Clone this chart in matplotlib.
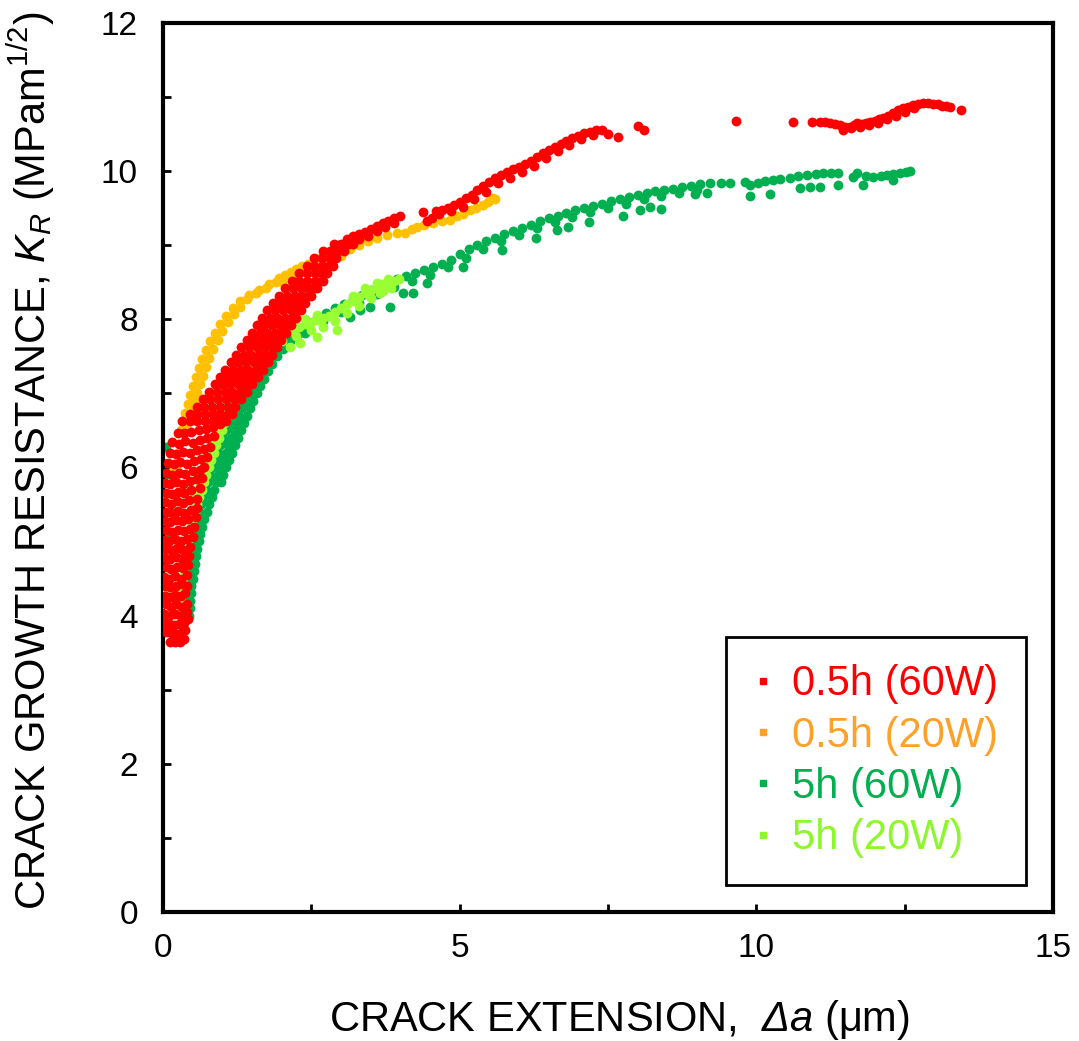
import numpy as np
import matplotlib.pyplot as plt
from matplotlib.lines import Line2D
from matplotlib.ticker import MultipleLocator

plt.rcParams['font.family'] = ['Liberation Sans', 'DejaVu Sans']
plt.rcParams['mathtext.fontset'] = 'custom'
plt.rcParams['mathtext.rm'] = 'Liberation Sans'
plt.rcParams['mathtext.it'] = 'Liberation Sans:italic'
# mathtext keeps Greek capitals upright in \mathit, so use sf for an italic delta
plt.rcParams['mathtext.sf'] = 'Liberation Sans:italic'

labels = ['0.5h (60W)', '0.5h (20W)', '5h (60W)', '5h (20W)']
colors = ['#FF0000', '#FFC000', '#00B050', '#99FF33']
legend_colors = ['#FF0000', '#FFA126', '#00B050', '#8CF72A']

# ---- 0.5h (60W): (crack extension um, K_R) ----
red_base = [
    (0.12, 3.65), (0.2, 3.65), (0.28, 3.65), (0.35, 3.68),
    (0.05, 3.78), (0.13, 3.76), (0.22, 3.75), (0.3, 3.77), (0.38, 3.8),
    (0.03, 3.9), (0.1, 3.88), (0.18, 3.87), (0.27, 3.88), (0.36, 3.9), (0.42, 3.95),
    (0.02, 4.02), (0.1, 4.0), (0.2, 4.02), (0.3, 4.0), (0.4, 4.05),
    (0.05, 4.15), (0.13, 4.12), (0.22, 4.15), (0.32, 4.12), (0.4, 4.16),
    (0.03, 4.27), (0.12, 4.25), (0.2, 4.28), (0.3, 4.26), (0.38, 4.3),
    (0.04, 4.4), (0.12, 4.38), (0.22, 4.4), (0.32, 4.42), (0.4, 4.4),
    (0.02, 4.52), (0.1, 4.5), (0.2, 4.53), (0.3, 4.5), (0.4, 4.55),
    (0.05, 4.65), (0.14, 4.63), (0.24, 4.66), (0.34, 4.64), (0.43, 4.68),
    (0.03, 4.78), (0.12, 4.76), (0.22, 4.79), (0.32, 4.77), (0.44, 4.8),
    (0.04, 4.9), (0.14, 4.88), (0.24, 4.91), (0.34, 4.89), (0.46, 4.93),
    (0.02, 5.02), (0.11, 5.0), (0.21, 5.03), (0.31, 5.01), (0.41, 5.04), (0.5, 5.06),
    (0.05, 5.15), (0.15, 5.13), (0.25, 5.16), (0.35, 5.14), (0.46, 5.17), (0.53, 5.2),
    (0.03, 5.28), (0.12, 5.26), (0.22, 5.29), (0.32, 5.27), (0.42, 5.3), (0.55, 5.33),
    (0.06, 5.4), (0.16, 5.38), (0.26, 5.41), (0.36, 5.39), (0.47, 5.43), (0.57, 5.45),
    (0.03, 5.53), (0.13, 5.51), (0.23, 5.54), (0.33, 5.52), (0.44, 5.56), (0.58, 5.58),
    (0.05, 5.66), (0.15, 5.64), (0.25, 5.67), (0.35, 5.65), (0.47, 5.69), (0.62, 5.72),
    (0.03, 5.79), (0.12, 5.77), (0.22, 5.8), (0.33, 5.78), (0.45, 5.82), (0.58, 5.84), (0.66, 5.86),
    (0.06, 5.92), (0.16, 5.9), (0.27, 5.93), (0.38, 5.91), (0.5, 5.95), (0.62, 5.97), (0.7, 6.0),
    (0.08, 6.06), (0.18, 6.04), (0.29, 6.07), (0.4, 6.05), (0.52, 6.09), (0.64, 6.11), (0.74, 6.14),
    (0.12, 6.2), (0.22, 6.18), (0.33, 6.21), (0.45, 6.19), (0.57, 6.23), (0.69, 6.25), (0.8, 6.28),
    (0.16, 6.34), (0.27, 6.32), (0.38, 6.35), (0.5, 6.33), (0.62, 6.37), (0.74, 6.4), (0.86, 6.42),
    (0.25, 6.47), (0.36, 6.46), (0.48, 6.48), (0.6, 6.5), (0.72, 6.52), (0.84, 6.55), (0.96, 6.58),
]
red_mid = [
    (0.32, 6.62), (0.45, 6.62), (0.58, 6.62), (0.71, 6.62), (0.84, 6.62), (0.97, 6.62), (1.06, 6.62),
    (0.45, 6.72), (0.58, 6.72), (0.71, 6.72), (0.84, 6.72), (0.97, 6.72), (1.1, 6.72), (1.16, 6.72),
    (0.57, 6.82), (0.7, 6.82), (0.83, 6.82), (0.96, 6.82), (1.09, 6.82), (1.22, 6.82),
    (0.68, 6.92), (0.8, 6.92), (0.93, 6.92), (1.06, 6.92), (1.19, 6.92), (1.32, 6.92),
    (0.78, 7.02), (0.91, 7.02), (1.04, 7.02), (1.17, 7.02), (1.3, 7.02), (1.42, 7.02),
    (0.88, 7.12), (1.0, 7.12), (1.13, 7.12), (1.26, 7.12), (1.39, 7.12), (1.5, 7.12),
    (0.96, 7.22), (1.09, 7.22), (1.22, 7.22), (1.35, 7.22), (1.48, 7.22), (1.6, 7.22),
    (1.05, 7.32), (1.18, 7.32), (1.31, 7.32), (1.44, 7.32), (1.57, 7.32), (1.68, 7.32),
    (1.14, 7.42), (1.27, 7.42), (1.4, 7.42), (1.53, 7.42), (1.66, 7.42), (1.77, 7.42),
    (1.23, 7.52), (1.36, 7.52), (1.49, 7.52), (1.62, 7.52), (1.74, 7.52), (1.84, 7.52),
    (1.32, 7.62), (1.45, 7.62), (1.58, 7.62), (1.71, 7.62), (1.84, 7.62), (1.92, 7.62),
    (1.41, 7.72), (1.54, 7.72), (1.67, 7.72), (1.8, 7.72), (1.92, 7.72), (1.99, 7.72),
    (1.5, 7.82), (1.63, 7.82), (1.76, 7.82), (1.89, 7.82), (2.0, 7.82), (2.07, 7.82),
    (1.58, 7.92), (1.71, 7.92), (1.84, 7.92), (1.97, 7.92), (2.08, 7.92), (2.15, 7.92),
    (1.67, 8.02), (1.8, 8.02), (1.93, 8.02), (2.06, 8.02), (2.17, 8.02), (2.24, 8.02),
    (1.76, 8.12), (1.89, 8.12), (2.02, 8.12), (2.15, 8.12), (2.26, 8.12), (2.32, 8.12),
    (1.86, 8.22), (1.99, 8.22), (2.12, 8.22), (2.25, 8.22), (2.35, 8.22), (2.4, 8.22),
    (1.96, 8.32), (2.09, 8.32), (2.22, 8.32), (2.35, 8.32), (2.45, 8.32), (2.5, 8.32),
    (2.06, 8.42), (2.19, 8.42), (2.32, 8.42), (2.45, 8.42), (2.55, 8.42), (2.6, 8.42),
    (2.17, 8.52), (2.3, 8.52), (2.43, 8.52), (2.56, 8.52), (2.66, 8.52), (2.7, 8.52),
    (2.3, 8.62), (2.43, 8.62), (2.56, 8.62), (2.68, 8.62), (2.76, 8.62),
    (2.42, 8.72), (2.55, 8.72), (2.68, 8.72), (2.8, 8.72), (2.86, 8.72),
    (2.55, 8.82), (2.68, 8.82), (2.81, 8.82), (2.92, 8.82),
    (2.7, 8.92), (2.82, 8.92), (2.95, 8.92), (3.05, 8.92),
    (2.88, 9.02), (3.0, 9.02), (3.12, 9.02), (3.2, 9.02),
]
red_top = [
    (3.1, 9.08), (3.2, 9.12), (3.3, 9.15), (3.4, 9.18), (3.5, 9.22), (3.6, 9.26),
    (3.7, 9.3), (3.8, 9.33), (3.9, 9.37), (4.0, 9.4),
    (3.15, 9.03), (3.3, 9.08), (3.45, 9.12), (3.6, 9.19), (3.75, 9.24), (3.9, 9.3),
    (4.38, 9.45), (4.45, 9.32), (4.53, 9.36), (4.6, 9.46), (4.7, 9.48), (4.8, 9.5),
    (4.9, 9.54), (5.0, 9.58), (5.1, 9.63), (5.2, 9.68), (5.3, 9.74), (5.4, 9.8),
    (5.5, 9.85), (5.6, 9.9), (5.7, 9.95), (5.8, 9.99), (5.9, 10.03), (6.0, 10.06),
    (6.1, 10.1), (6.2, 10.13), (6.3, 10.19), (6.4, 10.24), (6.5, 10.29), (6.6, 10.33),
    (6.7, 10.37), (6.8, 10.41), (6.9, 10.45), (7.0, 10.48), (7.1, 10.51), (7.2, 10.53),
    (7.3, 10.55), (7.4, 10.56),
    (4.65, 9.42), (4.85, 9.46), (5.05, 9.52), (5.25, 9.62), (5.45, 9.72), (5.65, 9.84),
    (5.85, 9.91), (6.05, 9.99), (6.25, 10.07), (6.45, 10.18), (6.65, 10.27), (6.85, 10.35),
    (7.05, 10.43), (7.25, 10.49),
]
red_tail = [
    (7.5, 10.5), (7.67, 10.46), (8.01, 10.61), (8.11, 10.56), (9.66, 10.68),
    (10.62, 10.66), (10.94, 10.66), (11.07, 10.66), (11.15, 10.66), (11.24, 10.65),
    (11.32, 10.64), (11.41, 10.62), (11.46, 10.56), (11.5, 10.6), (11.58, 10.6),
    (11.64, 10.62), (11.7, 10.65), (11.78, 10.64), (11.85, 10.65), (11.92, 10.66),
    (12.0, 10.68), (12.07, 10.7), (12.14, 10.72), (12.22, 10.75), (12.3, 10.78),
    (12.38, 10.82), (12.47, 10.85), (12.55, 10.87), (12.64, 10.89), (12.72, 10.91),
    (12.81, 10.92), (12.9, 10.92), (12.98, 10.91), (13.06, 10.9), (13.13, 10.88),
    (13.2, 10.88), (13.26, 10.87), (13.45, 10.83),
    (11.6, 10.58), (11.75, 10.6), (11.9, 10.62), (12.05, 10.65), (12.2, 10.7),
    (12.35, 10.75), (12.5, 10.8), (12.65, 10.85),
]

# ---- 0.5h (20W) ----
orange_base = [
    (0.02, 4.15), (0.03, 5.55), (0.17, 5.95), (0.24, 6.03), (0.25, 6.2),
    (0.3, 6.5), (0.4, 6.52), (0.33, 6.62), (0.45, 6.64), (0.38, 6.74), (0.5, 6.76),
    (0.42, 6.86), (0.54, 6.88), (0.46, 6.98), (0.58, 7.0), (0.5, 7.1), (0.62, 7.12),
    (0.55, 7.22), (0.67, 7.24), (0.6, 7.34), (0.72, 7.36), (0.66, 7.46), (0.78, 7.48),
    (0.72, 7.58), (0.84, 7.6), (0.8, 7.7), (0.92, 7.72), (0.88, 7.82), (1.0, 7.84),
    (0.97, 7.94), (1.09, 7.96), (1.07, 8.05), (1.19, 8.07), (1.18, 8.15), (1.3, 8.17),
    (1.3, 8.25), (1.42, 8.27), (1.45, 8.33), (1.57, 8.36), (1.62, 8.4), (1.74, 8.42),
    (1.78, 8.47), (1.9, 8.5),
]
orange_top = [
    (1.95, 8.55), (2.05, 8.6), (2.15, 8.64), (2.25, 8.68), (2.35, 8.72), (2.45, 8.75),
    (2.55, 8.78), (2.65, 8.82), (2.75, 8.86), (2.85, 8.9),
    (2.0, 8.5), (2.2, 8.58), (2.4, 8.66), (2.6, 8.72), (2.8, 8.78), (3.0, 8.85),
    (3.0, 8.92), (3.15, 8.95), (3.3, 9.0), (3.45, 9.06), (3.6, 9.1), (3.78, 9.14),
    (3.95, 9.16), (4.08, 9.17), (4.2, 9.22), (4.28, 9.25), (4.4, 9.27), (4.55, 9.3),
    (4.7, 9.32), (4.84, 9.34), (4.95, 9.4), (5.05, 9.42), (5.17, 9.48), (5.28, 9.5),
    (5.39, 9.54), (5.48, 9.58), (5.56, 9.64), (5.6, 9.62),
]

# ---- 5h (60W) ----
dgreen_base = [
    (0.0, 4.75), (0.02, 4.4), (0.03, 5.1), (0.03, 5.38), (0.01, 5.65), (0.02, 5.88),
    (0.0, 6.06), (0.06, 6.28), (1.1, 7.14),
    (0.36, 4.0), (0.44, 4.0), (0.37, 4.1), (0.45, 4.1), (0.38, 4.2), (0.46, 4.2),
    (0.39, 4.3), (0.47, 4.3), (0.4, 4.4), (0.48, 4.4), (0.41, 4.5), (0.5, 4.5),
    (0.43, 4.6), (0.52, 4.6), (0.45, 4.7), (0.54, 4.7), (0.47, 4.8), (0.56, 4.8),
    (0.49, 4.9), (0.58, 4.9), (0.5, 5.0), (0.6, 5.0), (0.52, 5.1), (0.63, 5.1),
    (0.55, 5.2), (0.66, 5.2), (0.58, 5.3), (0.7, 5.3), (0.61, 5.4), (0.74, 5.4),
    (0.64, 5.5), (0.78, 5.5), (0.68, 5.6), (0.82, 5.6), (0.72, 5.7), (0.86, 5.7),
    (0.76, 5.8), (0.9, 5.8), (0.98, 5.8), (0.8, 5.9), (0.93, 5.9), (1.02, 5.9),
    (0.84, 6.0), (0.97, 6.0), (1.06, 6.0), (0.88, 6.1), (1.01, 6.1), (1.11, 6.1),
    (0.93, 6.2), (1.06, 6.2), (1.16, 6.2), (0.97, 6.3), (1.1, 6.3), (1.21, 6.3),
    (1.02, 6.4), (1.15, 6.4), (1.26, 6.4), (1.06, 6.5), (1.19, 6.5), (1.31, 6.5),
    (1.1, 6.6), (1.24, 6.6), (1.36, 6.6), (1.15, 6.7), (1.29, 6.7), (1.41, 6.7),
    (1.2, 6.8), (1.34, 6.8), (1.46, 6.8), (1.25, 6.9), (1.39, 6.9), (1.52, 6.9),
    (1.3, 7.0), (1.45, 7.0), (1.58, 7.0), (1.36, 7.1), (1.51, 7.1), (1.64, 7.1),
    (1.42, 7.2), (1.57, 7.2), (1.7, 7.2), (1.49, 7.3), (1.64, 7.3), (1.77, 7.3),
    (1.56, 7.4), (1.71, 7.4), (1.84, 7.4), (1.65, 7.5), (1.8, 7.5), (1.92, 7.5),
    (1.75, 7.6), (1.9, 7.6), (2.02, 7.6), (1.88, 7.7), (2.02, 7.7), (2.14, 7.7),
    (2.02, 7.8), (2.16, 7.8), (2.28, 7.8),
]
dgreen_top = [
    (2.3, 7.86), (2.45, 7.94), (2.6, 8.02), (2.75, 8.09), (2.9, 8.15), (3.05, 8.21),
    (3.2, 8.27), (3.35, 8.33), (3.5, 8.4), (3.65, 8.45), (3.8, 8.5), (3.95, 8.54),
    (4.1, 8.58), (4.25, 8.62), (4.4, 8.66), (4.55, 8.7), (4.7, 8.75), (4.85, 8.8),
    (5.0, 8.88), (5.15, 8.95), (5.3, 9.0), (5.45, 9.05), (5.6, 9.1), (5.75, 9.15),
    (5.9, 9.19), (6.05, 9.23), (6.2, 9.27), (6.35, 9.32), (6.5, 9.37), (6.65, 9.4),
    (6.8, 9.43), (6.95, 9.47), (7.1, 9.5), (7.25, 9.53), (7.4, 9.56), (7.55, 9.59),
    (7.7, 9.62), (7.85, 9.65), (8.0, 9.68), (8.15, 9.71), (8.3, 9.73), (8.45, 9.75),
    (8.6, 9.76), (8.75, 9.78), (8.9, 9.8), (9.05, 9.82), (9.22, 9.84), (9.4, 9.84),
    (9.56, 9.84), (9.81, 9.85), (10.03, 9.84), (10.15, 9.86), (10.28, 9.88), (10.4, 9.89),
    (10.57, 9.91), (10.7, 9.93), (10.85, 9.95), (11.0, 9.96), (11.12, 9.98), (11.25, 9.98),
    (11.38, 9.98), (11.63, 9.92), (11.7, 9.98), (11.85, 9.93), (11.97, 9.92), (12.1, 9.94),
    (12.2, 9.95), (12.3, 9.96), (12.42, 9.98), (12.52, 9.99), (12.59, 10.0),
]
dgreen_low = [
    (2.4, 7.82), (2.7, 7.97), (3.0, 8.1), (3.3, 8.22), (3.6, 8.34), (3.9, 8.43),
    (4.2, 8.52), (4.5, 8.6), (4.8, 8.7), (5.1, 8.83), (5.4, 8.95), (5.7, 9.05),
    (6.0, 9.14), (6.3, 9.23), (6.6, 9.31), (6.9, 9.38), (7.2, 9.45), (7.5, 9.5),
    (7.8, 9.56), (8.1, 9.62), (8.4, 9.67), (8.7, 9.71), (9.0, 9.75), (10.74, 9.77),
    (10.9, 9.79), (11.07, 9.79), (11.38, 9.81), (11.8, 9.81), (12.3, 9.88),
    (3.15, 8.03), (3.32, 8.13), (3.49, 8.17), (3.83, 8.17), (4.05, 8.36), (4.21, 8.36),
    (4.45, 8.49), (5.06, 8.71), (5.71, 8.94), (6.29, 9.09), (6.64, 9.21), (6.83, 9.25),
    (7.18, 9.31), (7.75, 9.4), (8.04, 9.48), (8.21, 9.52), (8.39, 9.49), (8.97, 9.69),
    (9.17, 9.71), (9.89, 9.66), (10.23, 9.69), (9.89, 9.81),
]

# ---- 5h (20W) ----
lgreen_base = [
    (0.02, 3.9), (0.02, 4.3), (0.03, 4.85),
    (0.3, 4.0), (0.31, 4.1), (0.31, 4.2), (0.32, 4.3), (0.33, 4.4), (0.34, 4.5),
    (0.36, 4.6), (0.38, 4.7), (0.4, 4.8), (0.42, 4.9), (0.43, 5.0), (0.45, 5.1),
    (0.48, 5.2), (0.51, 5.3), (0.54, 5.4), (0.57, 5.5),
    (0.61, 5.6), (0.53, 5.6), (0.65, 5.7), (0.57, 5.7), (0.69, 5.8), (0.61, 5.8),
    (0.73, 5.9), (0.65, 5.9), (0.77, 6.0), (0.69, 6.0), (0.81, 6.1), (0.73, 6.1),
    (0.86, 6.2), (0.78, 6.2), (0.9, 6.3), (0.82, 6.3), (0.95, 6.4), (0.87, 6.4),
    (0.99, 6.5), (0.91, 6.5), (1.03, 6.6), (0.95, 6.6), (1.08, 6.7), (1.0, 6.7),
    (1.13, 6.8), (1.05, 6.8), (1.18, 6.9), (1.1, 6.9), (1.23, 7.0), (1.15, 7.0),
    (1.29, 7.1), (1.21, 7.1), (1.35, 7.2), (1.27, 7.2), (1.42, 7.3), (1.34, 7.3),
    (1.49, 7.4), (1.41, 7.4), (1.58, 7.5), (1.5, 7.5), (1.68, 7.6), (1.6, 7.6),
    (1.8, 7.7), (1.72, 7.7),
]
lgreen_top = [
    (1.9, 7.75), (2.0, 7.8), (2.1, 7.84), (2.2, 7.87), (2.3, 7.9), (2.4, 7.93),
    (2.5, 7.96), (2.6, 7.99), (2.7, 8.02), (2.8, 8.05), (2.9, 8.1), (3.0, 8.15),
    (3.1, 8.2), (3.2, 8.25), (3.3, 8.3), (3.4, 8.36), (3.5, 8.4), (3.6, 8.44),
    (3.7, 8.47), (3.8, 8.5), (3.9, 8.52), (3.97, 8.54),
    (2.0, 7.7), (2.14, 7.63), (2.31, 7.68), (2.25, 7.78), (2.5, 7.85), (2.6, 7.76),
    (2.7, 7.9), (2.93, 7.86), (2.9, 7.98), (3.1, 8.08), (3.3, 8.18), (3.5, 8.28),
    (3.66, 8.36), (3.7, 8.38), (3.85, 8.42),
    (2.2, 7.93), (2.4, 8.0), (2.6, 8.06), (3.2, 8.32), (3.4, 8.42), (3.6, 8.49), (3.8, 8.54),
]

series = [
    red_base + red_mid + red_top + red_tail,
    orange_base + orange_top,
    dgreen_base + dgreen_top + dgreen_low,
    lgreen_base + lgreen_top,
]

fig = plt.figure(figsize=(10.79, 10.41), dpi=100)
ax = fig.add_axes([0.151, 0.124, 0.825, 0.854])

# red drawn on top, as in the original
draw_order = [2, 3, 1, 0]
for z, i in enumerate(draw_order):
    xy = np.array(series[i])
    ax.scatter(xy[:, 0], xy[:, 1], s=50, color=colors[i], linewidths=0, zorder=2 + z)

ax.set_xlim(0, 15)
ax.set_ylim(0, 12)
ax.xaxis.set_major_locator(MultipleLocator(5))
ax.xaxis.set_minor_locator(MultipleLocator(2.5))
ax.yaxis.set_major_locator(MultipleLocator(2))
ax.yaxis.set_minor_locator(MultipleLocator(1))
ax.tick_params(which='both', direction='in', length=6, width=2, top=False, right=False)
ax.tick_params(axis='both', which='major', labelsize=24)
ax.tick_params(axis='x', which='major', pad=15)
ax.tick_params(axis='y', which='major', pad=18)
for sp in ax.spines.values():
    sp.set_linewidth(3)

ax.set_xlabel(r'CRACK EXTENSION,  $\mathsf{Δa}$ (μm)', fontsize=30)
ax.xaxis.set_label_coords(0.513, -0.097)
ax.set_ylabel(r'CRACK GROWTH RESISTANCE, $K_R$ (MPam$^{1/2}$)', fontsize=30)
ax.yaxis.set_label_coords(-0.119, 0.508)

handles = [Line2D([], [], ls='', marker='s', markersize=5, color=c) for c in legend_colors]
leg = ax.legend(handles, labels, loc='lower right', bbox_to_anchor=(0.969, 0.030),
                fontsize=30, labelcolor=legend_colors, frameon=True, fancybox=False,
                edgecolor='black', framealpha=1, borderpad=0.65, handlelength=0.5,
                handletextpad=0.45, labelspacing=0.27, borderaxespad=0)
leg.get_frame().set_linewidth(2)

fig.savefig('out.png', dpi=100)
